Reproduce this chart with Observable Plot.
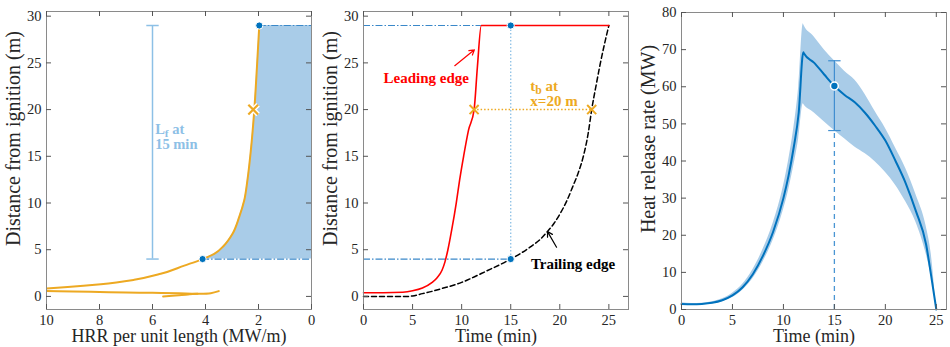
<!DOCTYPE html>
<html><head><meta charset="utf-8">
<script src="https://cdn.jsdelivr.net/npm/d3@7"></script>
<script src="https://cdn.jsdelivr.net/npm/@observablehq/plot@0.6"></script>
<style>
body{margin:0;background:#fff;}
#wrap{position:relative;width:950px;height:347px;overflow:hidden;background:#fff;}
#wrap > svg{position:absolute;top:0;}
</style></head><body><div id="wrap"></div>
<script>
// ---------- Panel 1 data: HRR per unit length vs distance ----------
const mainHRR  = [10.3, 10.0, 9.2, 7.95, 6.69, 5.69, 4.8, 4.11, 3.67, 3.3, 2.98, 2.73, 2.54, 2.42, 2.29, 2.16, 2.06, 1.97];
const mainDist = [0.8, 0.86, 1.0, 1.3, 1.78, 2.42, 3.3, 4.0, 4.56, 5.45, 6.7, 8.48, 10.26, 12.4, 15.6, 19.9, 24.5, 29.0];
const loopHRR  = [10.3, 9.0, 8.0, 7.0, 6.0, 5.0, 4.3, 3.8, 3.5];
const loopDist = [0.6, 0.53, 0.47, 0.42, 0.38, 0.33, 0.29, 0.35, 0.57];
const tailHRR  = [5.6, 5.0, 4.6, 4.3];
const tailDist = [0.0, 0.12, 0.22, 0.29];
const flameEnds = [{h: 4.11, d: 4}, {h: 1.97, d: 29}];   // blue dots (trailing / leading edge at 15 min)
const markX20 = [{h: 2.2, d: 20}];
const lfBar = {x: 6, y1: 4, y2: 29};
const p1XTicks = [0, 2, 4, 6, 8, 10];
const distTicks = [0, 5, 10, 15, 20, 25, 30];

// ---------- Panel 2 data: flame edges vs time ----------
const leadT = [0, 2, 4, 5, 6, 7, 7.5, 8, 8.3, 8.6, 9.0, 9.45, 9.8, 10.2, 10.7, 11.27, 11.6, 12.0, 25];
const leadD = [0.4, 0.4, 0.45, 0.6, 0.9, 1.5, 2.0, 2.8, 3.7, 5.0, 7.2, 10, 12.5, 15, 17.8, 20, 24.5, 29, 29];
const trailT = [0, 4.5, 5, 6, 7, 8, 9, 10, 11, 12, 13, 14, 15, 16, 17, 18, 18.7, 19.4, 20, 20.7, 21.3, 21.9, 22.4, 22.9, 23.25, 23.7, 24.1, 24.55, 25];
const trailD = [0, 0, 0.05, 0.3, 0.55, 0.85, 1.15, 1.5, 1.95, 2.45, 2.95, 3.45, 4.0, 4.6, 5.3, 6.1, 6.9, 7.8, 8.8, 10.2, 11.7, 13.3, 15.0, 17.5, 20, 22.6, 24.8, 27, 29];
const p2Dots = [{t: 15, d: 29}, {t: 15, d: 4}];
const p2Cross = [{t: 11.27, d: 20}, {t: 23.25, d: 20}];
const timeTicks = [0, 5, 10, 15, 20, 25];

// ---------- Panel 3 data: heat release rate vs time ----------
const hrrT     = [0, 1, 2, 3, 4, 5, 6, 7, 8, 9, 10, 10.5, 11, 11.5, 11.95, 12, 13, 14, 15, 16, 17, 18, 19, 20, 21, 22, 23, 24, 24.5, 25];
const hrrMean  = [1.5, 1.4, 1.5, 1.8, 2.5, 3.8, 6, 9.5, 14.5, 21, 30, 36, 43.5, 53, 69.3, 69, 66.5, 63.3, 60.2, 57.8, 55.8, 53, 49.5, 45.5, 40, 34, 26.5, 17.5, 9, 0];
const hrrUpper = [1.8, 1.6, 1.7, 2.1, 2.9, 4.4, 6.8, 10.7, 16.2, 23.3, 33.2, 40, 48.5, 60, 77, 76.6, 73.5, 70, 67, 64.2, 61.8, 58, 53.3, 48.8, 43.5, 38, 31, 22.5, 15, 0];
const hrrLower = [1.2, 1.2, 1.3, 1.5, 2.1, 3.2, 5.2, 8.3, 12.8, 18.7, 26.8, 32, 38.5, 46, 55.4, 55.2, 53, 50.6, 48.2, 46, 43.8, 42, 39.8, 37, 33.5, 29, 23.5, 15, 9, 0];
const hrrAt15 = {t: 15, mean: 60.2, lo: 48.2, hi: 67};
const hrrTicks = [0, 10, 20, 30, 40, 50, 60, 70, 80];

// ---------- styling ----------
const FONT = "Liberation Serif";
const BLUE = "#0072BD", FILL = "#A9CCE8", YEL = "#EDA922", LBLUE = "#8DC0E6", DASHBLUE = "#3A88C9";
const H = 347, MT = 11, MB = 38;
const cap = {draw(ctx, size) { const w = Math.sqrt(size); ctx.moveTo(-w, 0); ctx.lineTo(w, 0); }};

const zip = (xs, ys, kx, ky) => xs.map((v, i) => ({[kx]: v, [ky]: ys[i]}));
const main = zip(mainHRR, mainDist, "h", "d");
const loop = zip(loopHRR, loopDist, "h", "d");
const tail = zip(tailHRR, tailDist, "h", "d");
const fillRows = main.filter(r => r.d >= 4);
const lead = zip(leadT, leadD, "t", "d");
const trail = zip(trailT, trailD, "t", "d");
const hrr = hrrT.map((t, i) => ({t, m: hrrMean[i], u: hrrUpper[i], l: hrrLower[i]}));

function boxMarks(xTicks, yTicks, innerW, innerH) {
  return [
    Plot.frame({stroke: "#8a8a8a"}),
    Plot.ruleX(xTicks, {x: d => d, insetTop: innerH - 5, stroke: "#555"}),
    Plot.ruleX(xTicks, {x: d => d, insetBottom: innerH - 5, stroke: "#555"}),
    Plot.ruleY(yTicks, {y: d => d, insetRight: innerW - 5, stroke: "#555"}),
    Plot.ruleY(yTicks, {y: d => d, insetLeft: innerW - 5, stroke: "#555"}),
    Plot.axisX({ticks: xTicks, tickSize: 0, tickPadding: 5, label: null, fontSize: 14.5}),
    Plot.axisY({ticks: yTicks, tickSize: 0, tickPadding: 5, label: null, fontSize: 14.5})
  ];
}
function labels(xl, yl) {
  return [
    Plot.text([xl], {frameAnchor: "bottom", text: d => d, dy: 27, fontSize: 18, textAnchor: "middle", lineAnchor: "middle", fill: "#262626"}),
    Plot.text([yl], {frameAnchor: "left", text: d => d, rotate: -90, dx: -33, dy: -22, fontSize: 20, textAnchor: "middle", lineAnchor: "middle", fill: "#262626"})
  ];
}
function subscript(svg, full, base, sub, rest) {
  d3.select(svg).selectAll("text").filter(function() { return this.textContent === full; }).each(function() {
    const t = d3.select(this); t.text(null);
    t.append("tspan").text(base);
    t.append("tspan").attr("dy", 3).attr("font-size", "78%").text(sub);
    t.append("tspan").attr("dy", -3).text(rest);
  });
}
const style = {fontFamily: FONT, fontSize: "14.5px", color: "#262626", background: "#fff"};
const wrap = document.getElementById("wrap");
function place(svg, left) { svg.style.left = left + "px"; wrap.appendChild(svg); }

// ---------- Panel 1 ----------
{
  const W = 320, ML = 46, MR = 9;
  const svg = Plot.plot({
    width: W, height: H, marginTop: MT, marginBottom: MB, marginLeft: ML, marginRight: MR,
    style,
    x: {domain: [10, 0]}, y: {domain: [-1.4, 30.5]},
    marks: [
      Plot.areaX(fillRows, {y: "d", x1: "h", x2: 0, fill: FILL, curve: "monotone-y"}),
      Plot.ruleY(flameEnds, {y: "d", x1: "h", x2: 0, stroke: DASHBLUE, strokeWidth: 1.2, strokeDasharray: "7,2,1.5,2"}),
      Plot.ruleX([lfBar], {x: "x", y1: "y1", y2: "y2", stroke: LBLUE, strokeWidth: 1.5}),
      Plot.dot([lfBar.y1, lfBar.y2], {x: lfBar.x, y: d => d, symbol: cap, r: 3.5, stroke: LBLUE, strokeWidth: 1.5}),
      Plot.line(main, {x: "h", y: "d", stroke: YEL, strokeWidth: 2, curve: "monotone-y", clip: true}),
      Plot.line(loop, {x: "h", y: "d", stroke: YEL, strokeWidth: 2, curve: "catmull-rom", clip: true}),
      Plot.line(tail, {x: "h", y: "d", stroke: YEL, strokeWidth: 2, curve: "catmull-rom", clip: true}),
      Plot.dot(markX20, {x: "h", y: "d", symbol: "times", r: 4.5, stroke: "white", strokeWidth: 5}),
      Plot.dot(markX20, {x: "h", y: "d", symbol: "times", r: 4.5, stroke: YEL, strokeWidth: 2.2}),
      Plot.dot(flameEnds, {x: "h", y: "d", r: 3.6, fill: BLUE, stroke: "white", strokeWidth: 1}),
      Plot.text(["Lf at", "15 min"], {x: 5.9, y: (d, i) => [17.9, 16.3][i], text: d => d, textAnchor: "start", fill: LBLUE, fontWeight: "bold", fontSize: 14.5}),
      ...boxMarks(p1XTicks, distTicks, W - ML - MR, H - MT - MB),
      ...labels("HRR per unit length (MW/m)", "Distance from ignition (m)")
    ]
  });
  subscript(svg, "Lf at", "L", "f", " at");
  place(svg, 0);
}

// ---------- Panel 2 ----------
{
  const W = 320, ML = 45, MR = 10;
  const svg = Plot.plot({
    width: W, height: H, marginTop: MT, marginBottom: MB, marginLeft: ML, marginRight: MR,
    style,
    x: {domain: [0, 27]}, y: {domain: [-1.4, 30.5]},
    marks: [
      Plot.ruleY(p2Dots, {y: "d", x1: 0, x2: (d, i) => [12.0, 15][i], stroke: DASHBLUE, strokeWidth: 1.2, strokeDasharray: "7,2,1.5,2"}),
      Plot.ruleX([p2Dots[0]], {x: "t", y1: p2Dots[1].d, y2: p2Dots[0].d, stroke: LBLUE, strokeWidth: 1.3, strokeDasharray: "1.5,2"}),
      Plot.ruleY([p2Cross[0]], {y: "d", x1: p2Cross[0].t, x2: p2Cross[1].t, stroke: YEL, strokeWidth: 1.5, strokeDasharray: "1.5,2"}),
      Plot.line(trail, {x: "t", y: "d", stroke: "black", strokeWidth: 1.5, strokeDasharray: "5,3", curve: "monotone-x"}),
      Plot.line(lead, {x: "t", y: "d", stroke: "#FF0000", strokeWidth: 1.6, curve: "monotone-x"}),
      Plot.dot(p2Cross, {x: "t", y: "d", symbol: "times", r: 4.2, stroke: YEL, strokeWidth: 2}),
      Plot.dot(p2Dots, {x: "t", y: "d", r: 3.6, fill: BLUE, stroke: "white", strokeWidth: 1}),
      Plot.arrow([{x1: 9.3, y1: 24.7, x2: 11.3, y2: 26.4}], {x1: "x1", y1: "y1", x2: "x2", y2: "y2", stroke: "#FF0000", strokeWidth: 1.2, headLength: 7}),
      Plot.arrow([{x1: 19.67, y1: 5.27, x2: 18.75, y2: 6.94}], {x1: "x1", y1: "y1", x2: "x2", y2: "y2", stroke: "black", strokeWidth: 1.2, headLength: 7}),
      Plot.text(["Leading edge"], {x: 6.4, y: 23.4, text: d => d, fill: "#FF0000", fontWeight: "bold", fontSize: 15}),
      Plot.text(["Trailing edge"], {x: 21.35, y: 3.5, text: d => d, fill: "black", fontWeight: "bold", fontSize: 15}),
      Plot.text(["tb at", "x=20 m"], {x: 17.0, y: (d, i) => [22.5, 20.9][i], text: d => d, textAnchor: "start", fill: YEL, fontWeight: "bold", fontSize: 15}),
      ...boxMarks(timeTicks, distTicks, W - ML - MR, H - MT - MB),
      ...labels("Time (min)", "Distance from ignition (m)")
    ]
  });
  subscript(svg, "tb at", "t", "b", " at");
  place(svg, 318);
}

// ---------- Panel 3 ----------
{
  const W = 314, ML = 45, MR = 4;
  const svg = Plot.plot({
    width: W, height: H, marginTop: MT + 1, marginBottom: MB, marginLeft: ML, marginRight: MR,
    style,
    x: {domain: [0, 26]}, y: {domain: [0, 80]},
    marks: [
      Plot.areaY(hrr, {x: "t", y1: "l", y2: "u", fill: FILL, curve: "monotone-x"}),
      Plot.ruleX([hrrAt15], {x: "t", y1: 0, y2: "lo", stroke: "#4A95D3", strokeWidth: 1.3, strokeDasharray: "5,4"}),
      Plot.ruleX([hrrAt15], {x: "t", y1: "lo", y2: "hi", stroke: "#3F8ED0", strokeWidth: 1.2}),
      Plot.dot([hrrAt15.lo, hrrAt15.hi], {x: hrrAt15.t, y: d => d, symbol: cap, r: 3.5, stroke: "#3F8ED0", strokeWidth: 1.2}),
      Plot.line(hrr, {x: "t", y: "m", stroke: BLUE, strokeWidth: 2, curve: "monotone-x"}),
      Plot.dot([hrrAt15], {x: "t", y: "mean", r: 3.9, fill: BLUE, stroke: "white", strokeWidth: 1.5}),
      ...boxMarks(timeTicks, hrrTicks, W - ML - MR, H - MT - 1 - MB),
      ...labels("Time (min)", "Heat release rate (MW)")
    ]
  });
  place(svg, 636);
}
</script></body></html>
